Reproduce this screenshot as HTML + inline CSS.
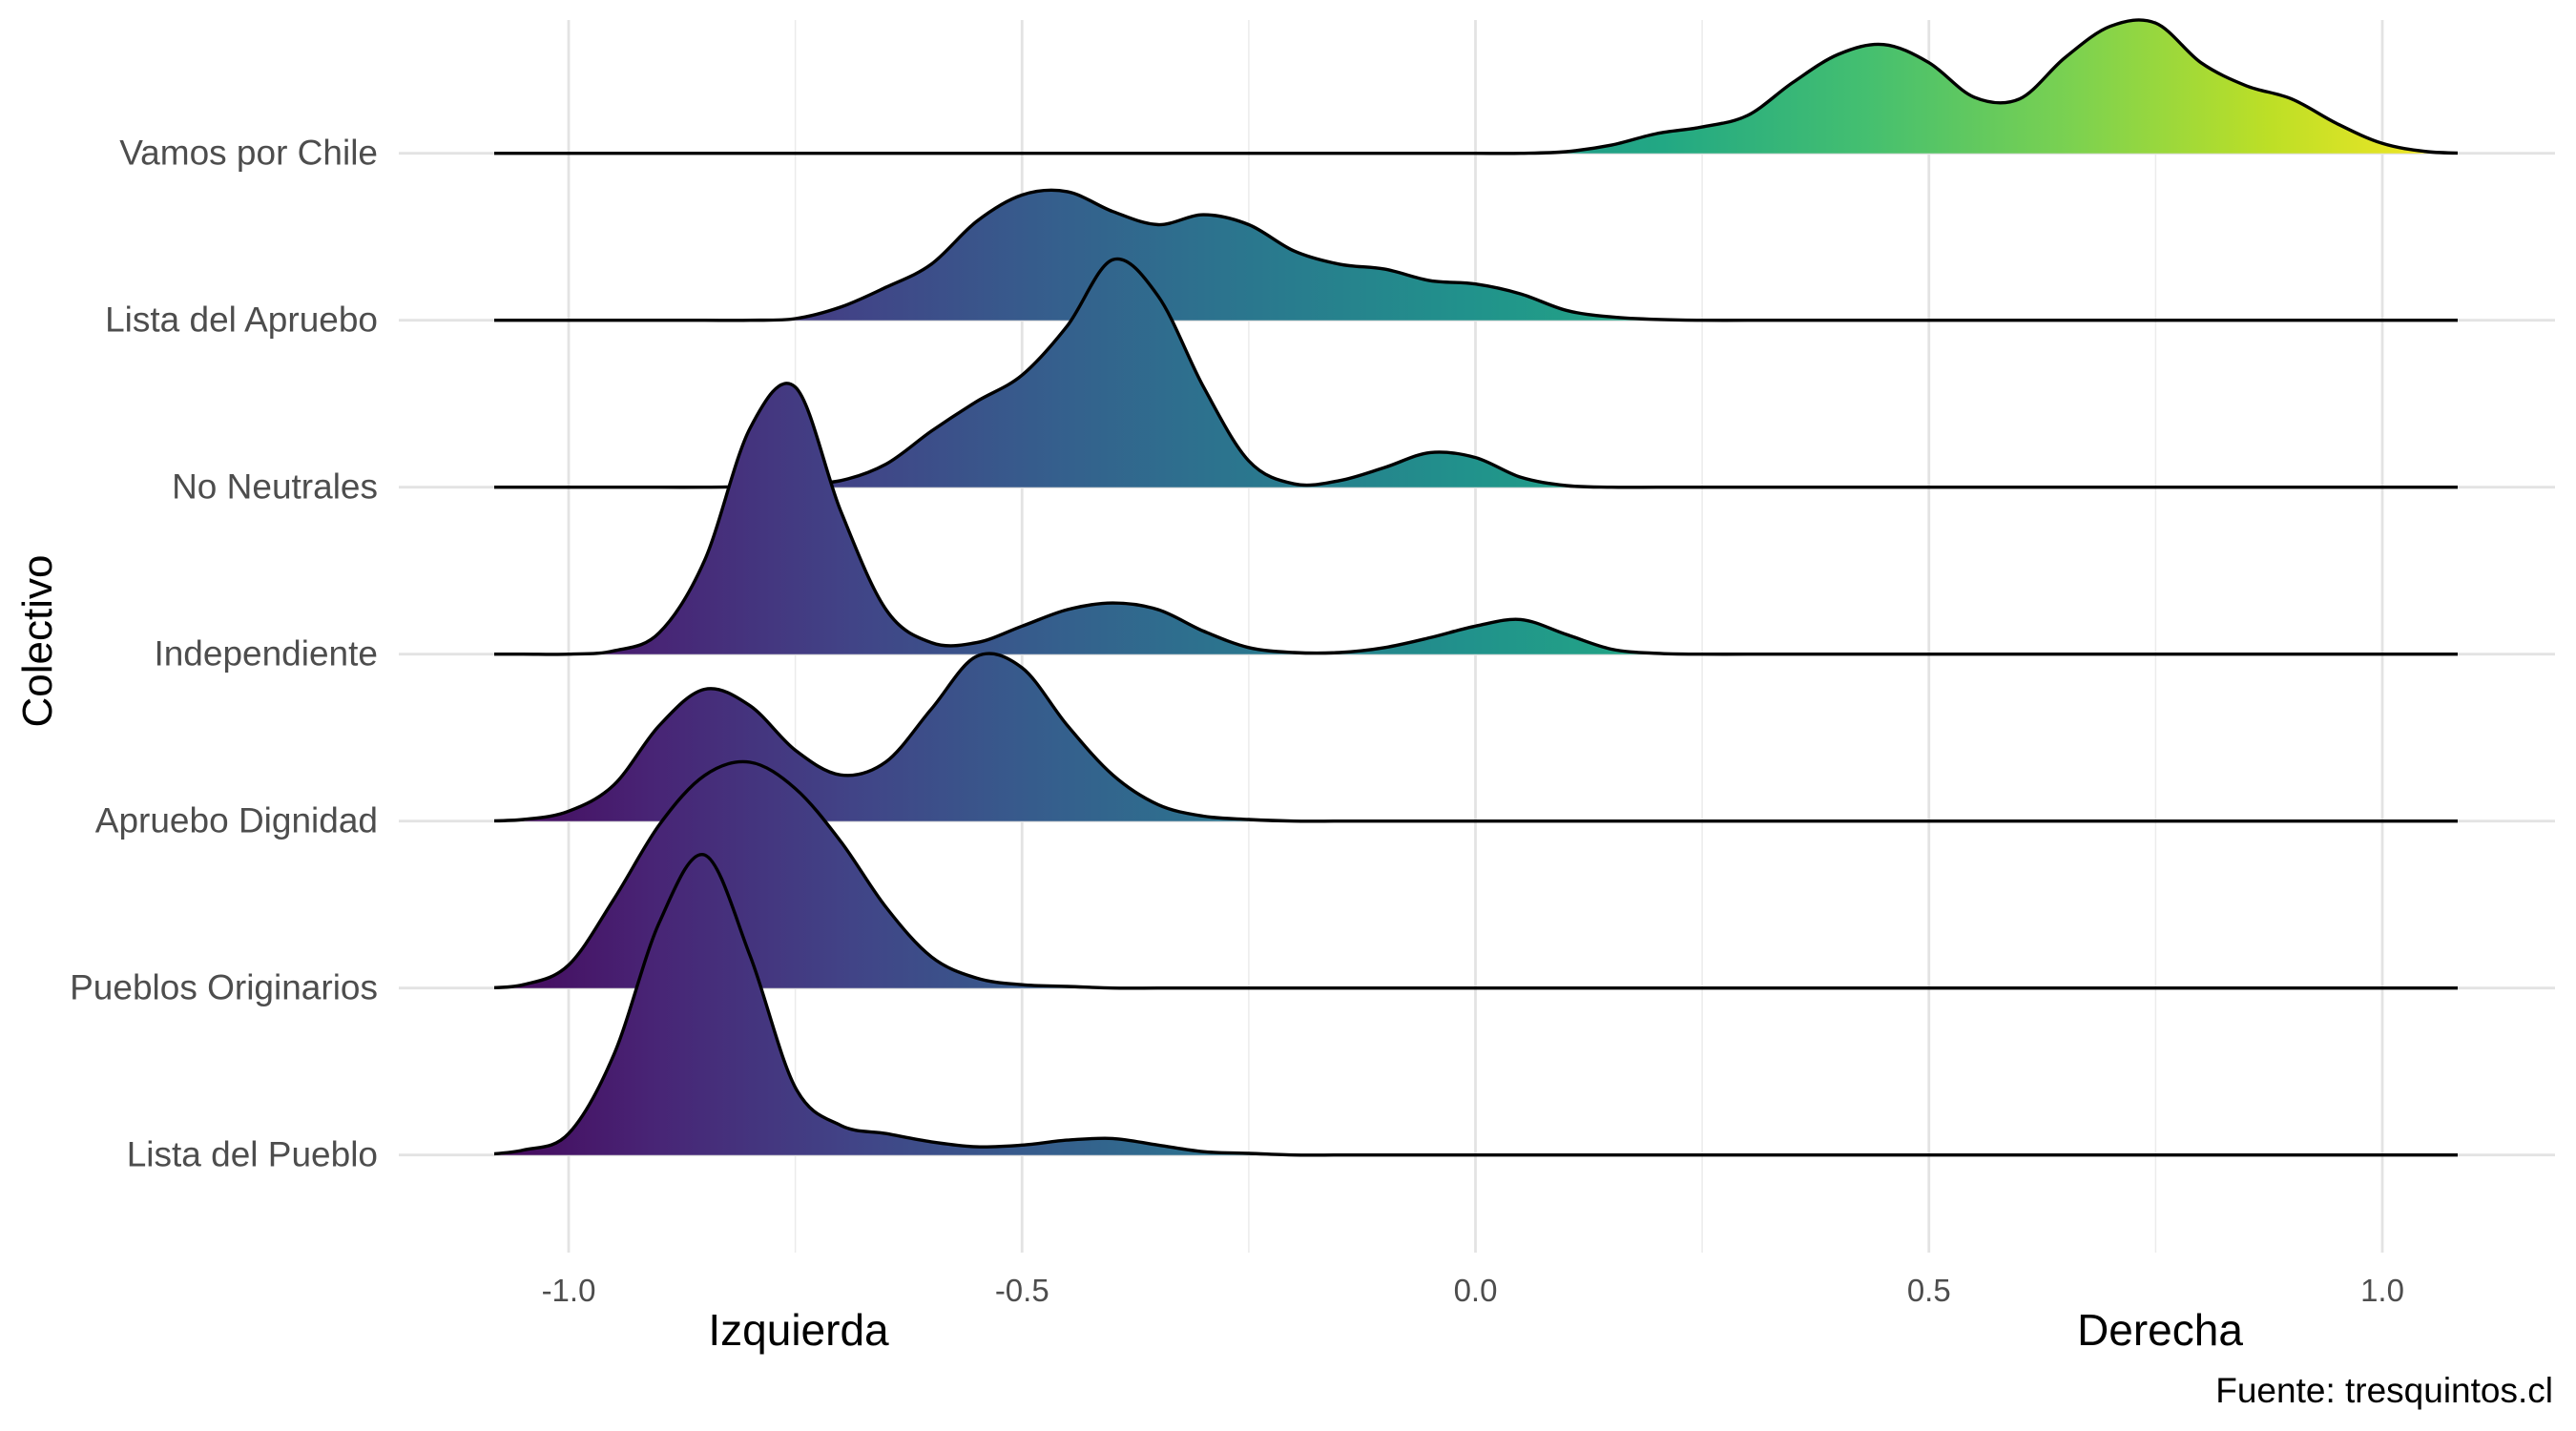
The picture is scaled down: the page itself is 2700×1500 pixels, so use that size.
<!DOCTYPE html>
<html><head><meta charset="utf-8">
<style>
html,body{margin:0;padding:0;background:#fff;}
svg{display:block;font-family:"Liberation Sans",Arial,sans-serif;}
</style></head>
<body>
<svg id="chart" width="2700" height="1500" viewBox="0 0 2700 1500" xmlns="http://www.w3.org/2000/svg">
<defs>
<linearGradient id="viridis" gradientUnits="userSpaceOnUse" x1="470" y1="0" x2="2591" y2="0">
<stop offset="0" stop-color="#440154"/>
<stop offset="0.1" stop-color="#482475"/>
<stop offset="0.2" stop-color="#414487"/>
<stop offset="0.3" stop-color="#355f8d"/>
<stop offset="0.4" stop-color="#2a788e"/>
<stop offset="0.5" stop-color="#21918c"/>
<stop offset="0.6" stop-color="#22a884"/>
<stop offset="0.7" stop-color="#44bf70"/>
<stop offset="0.8" stop-color="#7ad151"/>
<stop offset="0.9" stop-color="#bddf26"/>
<stop offset="1" stop-color="#fde725"/>
</linearGradient>
<clipPath id="rangeClip"><rect x="518" y="0" width="2058" height="1500"/></clipPath>
</defs>
<g id="grid"></g>
<g id="ridges" clip-path="url(#rangeClip)"></g>
<g id="labels"></g>
<text x="837" y="1410" font-size="46" text-anchor="middle" fill="#000">Izquierda</text>
<text x="2264" y="1410" font-size="46" text-anchor="middle" fill="#000">Derecha</text>
<text x="2676" y="1470" font-size="37" text-anchor="end" fill="#000">Fuente: tresquintos.cl</text>
<text x="54" y="672" font-size="44" text-anchor="middle" fill="#000" transform="rotate(-90 54 672)">Colectivo</text>
</svg>
<script>
const categories = ["Vamos por Chile","Lista del Apruebo","No Neutrales","Independiente","Apruebo Dignidad","Pueblos Originarios","Lista del Pueblo"];
// density heights sampled at x = -1.10, -1.05, ..., 1.10 (45 points)
const vamosPorChile   = [0,0,0,0,0,0,0,0,0,0,0,0,0,0,0,0,0,0,0,0,0,0,0,0,1,5,12,16,23,43,60,66,55,34,33,58,77,79,55,41,33,18,6,1,0];
const listaApruebo    = [0,0,0,0,0,0,0,1,8,20,34,60,76,78,66,58,64,58,42,34,31,24,22,16,6,2,0.5,0,0,0,0,0,0,0,0,0,0,0,0,0,0,0,0,0,0];
const noNeutrales     = [0,0,0,0,0,0,0.5,2,4,14,34,52,68,98,138,116,61,16,2,4,12,21,18,6,1,0,0,0,0,0,0,0,0,0,0,0,0,0,0,0,0,0,0,0,0];
const independiente   = [0,0,0,2,13,57,137,162,87,27,7,7,17,27,31,27,14,4,1,1,4,10,17,21,12,3,0.5,0,0,0,0,0,0,0,0,0,0,0,0,0,0,0,0,0,0];
const aprueboDignidad = [0,1,6,22,58,80,70,43,28,36,68,100,93,58,28,10,3,1,0,0,0,0,0,0,0,0,0,0,0,0,0,0,0,0,0,0,0,0,0,0,0,0,0,0,0];
const pueblosOrig     = [0,2,14,54,99,129,137,121,89,49,19,6,2,1,0,0,0,0,0,0,0,0,0,0,0,0,0,0,0,0,0,0,0,0,0,0,0,0,0,0,0,0,0,0,0];
const listaPueblo     = [0,3,13,61,141,182,121,41,18,13,8,5,6,9,10,6,2,1,0,0,0,0,0,0,0,0,0,0,0,0,0,0,0,0,0,0,0,0,0,0,0,0,0,0,0];
const seriesValues = [vamosPorChile,listaApruebo,noNeutrales,independiente,aprueboDignidad,pueblosOrig,listaPueblo];
const xTickValues = [-1.0,-0.5,0.0,0.5,1.0];
const xTickLabels = ["-1.0","-0.5","0.0","0.5","1.0"];
const xMinorValues = [-0.75,-0.25,0.25,0.75];
const xStart = -1.1, xStep = 0.05;

const NS = "http://www.w3.org/2000/svg";
function xScale(v){ return 1546.5 + v*950.5; }
function rowY(i){ return 160.7 + i*175; }
function hScale(d){ return d*1.728; }

const grid = document.getElementById('grid');
function line(parent,x1,y1,x2,y2,stroke,w,name){
  const l=document.createElementNS(NS,'line');
  l.setAttribute('x1',x1);l.setAttribute('y1',y1);l.setAttribute('x2',x2);l.setAttribute('y2',y2);
  l.setAttribute('stroke',stroke);l.setAttribute('stroke-width',w);
  
  
  parent.appendChild(l);
}
xMinorValues.forEach(v=>line(grid,xScale(v),21,xScale(v),1313,'#ebebeb',1.5,'minor-gridline'));
xTickValues.forEach(v=>line(grid,xScale(v),21,xScale(v),1313,'#e3e3e3',2.8,'major-gridline'));
categories.forEach((c,i)=>line(grid,418,rowY(i),2678,rowY(i),'#e3e3e3',2.8,'row-gridline'));

const labels=document.getElementById('labels');
xTickValues.forEach((v,i)=>{
  const t=document.createElementNS(NS,'text');
  t.setAttribute('x',xScale(v));t.setAttribute('y',1364);
  t.setAttribute('font-size','33');t.setAttribute('fill','#4d4d4d');t.setAttribute('text-anchor','middle');
  t.textContent=xTickLabels[i];
  
  
  labels.appendChild(t);
});
categories.forEach((c,i)=>{
  const t=document.createElementNS(NS,'text');
  t.setAttribute('x',396);t.setAttribute('y',rowY(i)+12);
  t.setAttribute('font-size','37');t.setAttribute('fill','#4d4d4d');t.setAttribute('text-anchor','end');
  t.textContent=c;
  
  
  labels.appendChild(t);
});

function curvePath(pts){
  let d='M'+pts[0][0]+','+pts[0][1];
  for(let i=0;i<pts.length-1;i++){
    const p0=pts[Math.max(0,i-1)],p1=pts[i],p2=pts[i+1],p3=pts[Math.min(pts.length-1,i+2)];
    const c1x=p1[0]+(p2[0]-p0[0])/6,c1y=p1[1]+(p2[1]-p0[1])/6;
    const c2x=p2[0]-(p3[0]-p1[0])/6,c2y=p2[1]-(p3[1]-p1[1])/6;
    d+=' C'+c1x.toFixed(1)+','+c1y.toFixed(1)+' '+c2x.toFixed(1)+','+c2y.toFixed(1)+' '+p2[0].toFixed(1)+','+p2[1].toFixed(1);
  }
  return d;
}
const ridges=document.getElementById('ridges');
seriesValues.forEach((vals,i)=>{
  const base=rowY(i);
  const pts=vals.map((d,k)=>[xScale(xStart+k*xStep), base-hScale(d)]);
  const d=curvePath(pts);
  const fill=document.createElementNS(NS,'path');
  fill.setAttribute('d',d+' L'+pts[pts.length-1][0]+','+base+' L'+pts[0][0]+','+base+' Z');
  fill.setAttribute('fill','url(#viridis)');
  
  
  ridges.appendChild(fill);
  const stroke=document.createElementNS(NS,'path');
  stroke.setAttribute('d',d);
  stroke.setAttribute('fill','none');stroke.setAttribute('stroke','#000');stroke.setAttribute('stroke-width','3.4');
  
  
  ridges.appendChild(stroke);
});
</script>
</body></html>
